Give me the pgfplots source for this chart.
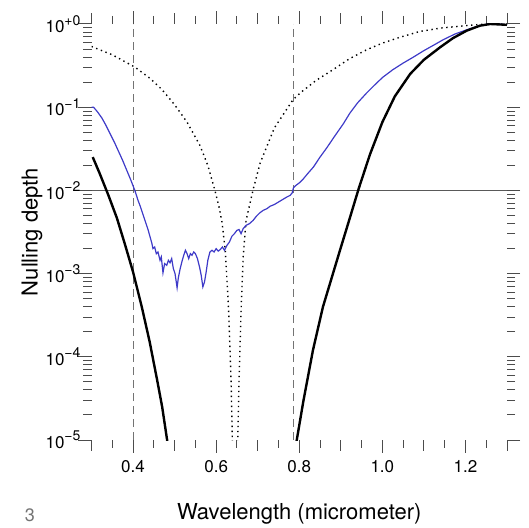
\documentclass[border=0pt]{standalone}
\usepackage{fontspec}
\setmainfont{TeX Gyre Heros}
\usepackage{pgfplots}
\usepackage{pgfplotstable}
\pgfplotsset{compat=1.18}

\definecolor{nullblue}{RGB}{62,58,200}
\newcommand{\dec}[1]{10\raisebox{0.85ex}{\fontsize{7}{8}\selectfont #1}}

% y values are log10 of the nulling depth
\pgfplotstableread{
x ly
0.303 -1.60
0.320 -1.80
0.340 -2.05
0.361 -2.33
0.380 -2.64
0.400 -2.98
0.421 -3.40
0.440 -3.82
0.458 -4.28
0.470 -4.60
0.482 -5.00
0.490 -5.30
}\blackleft

\pgfplotstableread{
x ly
0.788 -5.20
0.794 -5.00
0.810 -4.53
0.833 -3.92
0.857 -3.40
0.898 -2.72
0.920 -2.36
0.943 -1.98
0.970 -1.57
1.000 -1.18
1.030 -0.87
1.067 -0.60
1.100 -0.43
1.139 -0.28
1.170 -0.17
1.203 -0.08
1.235 -0.02
1.260 0.00
1.300 -0.01
}\blackright

\pgfplotstableread{
x ly
0.300 -0.27
0.350 -0.37
0.405 -0.52
0.440 -0.65
0.470 -0.79
0.500 -0.97
0.530 -1.18
0.561 -1.46
0.580 -1.70
0.597 -2.00
0.607 -2.20
0.614 -2.38
0.622 -2.72
0.630 -3.44
0.636 -4.30
0.639 -5.00
0.645 -7.00
0.652 -5.00
0.655 -4.30
0.660 -3.44
0.665 -2.80
0.672 -2.36
0.690 -1.97
0.706 -1.67
0.740 -1.25
0.785 -0.91
0.802 -0.83
0.840 -0.68
0.881 -0.55
0.920 -0.42
0.962 -0.31
1.000 -0.23
1.042 -0.16
1.090 -0.09
1.139 -0.05
1.210 -0.015
1.250 0.00
1.300 0.00
}\dotted

\pgfplotstableread{
x ly
0.300 -1.00
0.305 -1.00
0.315 -1.06
0.325 -1.13
0.335 -1.22
0.345 -1.32
0.355 -1.42
0.365 -1.53
0.375 -1.64
0.385 -1.76
0.395 -1.88
0.405 -2.01
0.412 -2.12
0.418 -2.20
0.424 -2.29
0.430 -2.38
0.436 -2.47
0.441 -2.56
0.445 -2.63
0.448 -2.70
0.452 -2.68
0.456 -2.76
0.460 -2.74
0.465 -2.84
0.468 -2.80
0.472 -2.99
0.476 -2.88
0.481 -2.90
0.485 -2.84
0.489 -2.87
0.493 -2.82
0.497 -2.94
0.501 -3.00
0.504 -3.10
0.506 -3.17
0.509 -3.05
0.513 -2.95
0.518 -2.85
0.522 -2.78
0.526 -2.72
0.530 -2.76
0.534 -2.82
0.538 -2.76
0.542 -2.78
0.546 -2.74
0.550 -2.76
0.555 -2.82
0.560 -2.92
0.564 -3.02
0.568 -3.16
0.572 -3.10
0.576 -2.98
0.580 -2.84
0.585 -2.74
0.590 -2.72
0.595 -2.74
0.600 -2.70
0.605 -2.73
0.610 -2.71
0.615 -2.68
0.620 -2.72
0.626 -2.66
0.632 -2.62
0.638 -2.55
0.644 -2.52
0.650 -2.48
0.655 -2.47
0.660 -2.52
0.665 -2.46
0.672 -2.42
0.680 -2.40
0.689 -2.36
0.697 -2.31
0.705 -2.27
0.713 -2.24
0.722 -2.22
0.730 -2.19
0.740 -2.17
0.750 -2.14
0.760 -2.11
0.770 -2.08
0.778 -2.06
0.783 -2.03
0.786 -1.97
0.792 -1.94
0.800 -1.91
0.810 -1.86
0.820 -1.80
0.834 -1.72
0.850 -1.60
0.866 -1.49
0.885 -1.35
0.906 -1.20
0.922 -1.07
0.940 -0.95
0.962 -0.83
0.980 -0.74
1.001 -0.64
1.025 -0.55
1.050 -0.47
1.074 -0.40
1.100 -0.32
1.125 -0.25
1.146 -0.19
1.175 -0.12
1.203 -0.07
1.235 -0.02
1.255 0.00
1.280 0.00
1.300 -0.01
}\bluecurve

\begin{document}
\begin{tikzpicture}
\begin{axis}[
    at={(0,0)}, anchor=south west,
    scale only axis,
    width=207.75pt, height=208pt,
    xmin=0.3, xmax=1.3,
    ymode=log, ymin=1e-5, ymax=1,
    axis line style={draw=none},
    tick align=outside,
    major tick length=6.5pt,
    minor tick length=4pt,
    tick style={black!70, line width=0.5pt},
    xtick={0.4,0.6,0.8,1.0,1.2},
    xticklabels={0.4,0.6,0.8,1.0,1.2},
    minor xtick={0.35,0.45,0.55,0.65,0.75,0.85,0.95,1.05,1.15,1.25},
    extra x ticks={0.3,0.5,0.7,0.9,1.1,1.3},
    extra x tick labels={},
    extra x tick style={major tick length=5.5pt},
    ytick={1e-5,1e-4,1e-3,1e-2,1e-1,1},
    yticklabels={\dec{−5},\dec{−4},\dec{−3},\dec{−2},\dec{−1},\dec{+0}},
    minor ytick={2e-5,3e-5,4e-5,5e-5,6e-5,7e-5,8e-5,9e-5,
                 2e-4,3e-4,4e-4,5e-4,6e-4,7e-4,8e-4,9e-4,
                 2e-3,3e-3,4e-3,5e-3,6e-3,7e-3,8e-3,9e-3,
                 2e-2,3e-2,4e-2,5e-2,6e-2,7e-2,8e-2,9e-2,
                 0.2,0.3,0.4,0.5,0.6,0.7,0.8,0.9},
    tick label style={font=\fontsize{8.5}{10}\selectfont},
    yticklabel style={xshift=4.5pt},
    xlabel={Wavelength (micrometer)},
    ylabel={Nulling depth},
    every axis x label/.style={at={(axis description cs:0.5,-0.178)}, anchor=center, font=\fontsize{11}{13}\selectfont},
    every axis y label/.style={at={(axis description cs:-0.143,0.5)}, rotate=90, anchor=center, font=\fontsize{11}{13}\selectfont},
]
\addplot[black!55, line width=0.5pt, dash pattern=on 4pt off 2.5pt, forget plot] coordinates {(0.4,1e-5) (0.4,1)};
\addplot[black!55, line width=0.5pt, dash pattern=on 4pt off 2.5pt, forget plot] coordinates {(0.785,1e-5) (0.785,1)};
\addplot[black!65, line width=0.5pt, forget plot] coordinates {(0.3,1e-2) (1.3,1e-2)};
\addplot[black, line width=0.7pt, dash pattern=on 0.7pt off 1.8pt] table[x=x, y expr=10^(\thisrow{ly})] {\dotted};
\addplot[nullblue, line width=0.6pt] table[x=x, y expr=10^(\thisrow{ly})] {\bluecurve};
\addplot[black, line width=1.2pt] table[x=x, y expr=10^(\thisrow{ly})] {\blackleft};
\addplot[black, line width=1.2pt] table[x=x, y expr=10^(\thisrow{ly})] {\blackright};
\end{axis}
\node[text=black!55, font=\fontsize{9}{10}\selectfont] at (-30.75pt,-37.5pt) {3};
\pgfresetboundingbox
\path[use as bounding box] (-45.75pt,-44pt) rectangle (218.75pt,220pt);
\end{tikzpicture}
\end{document}
